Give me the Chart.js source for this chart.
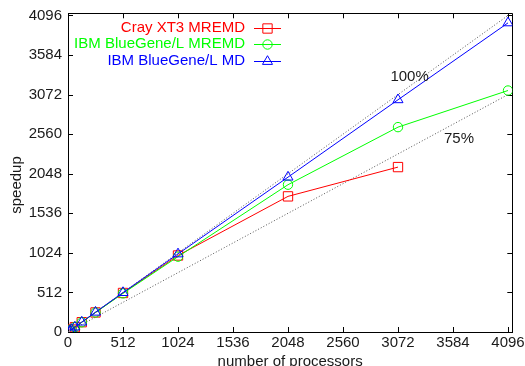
<!DOCTYPE html>
<html>
<head>
<meta charset="utf-8">
<script src="https://cdn.jsdelivr.net/npm/chart.js@4/dist/chart.umd.min.js"></script>
<style>
html,body{margin:0;padding:0;background:#fff}
#wrap{width:525px;height:366px;position:relative}
</style>
</head>
<body>
<div id="wrap"><canvas id="c"></canvas></div>
<script>
'use strict';

// number of processors
const procs=[16,32,64,128,256,512,1024,2048,3072,4096];
// speedup per system
const crayMremd=[16,32,63,127,253,505,990,1755,2134];
const bglMremd=[16,32,63,126,252,500,975,1906,2651,3125];
const bglMd=[16,32,64,128,256,510,1010,2004,3005,4000];
// reference efficiency lines
const refX=[0,4096];
const ref100=[0,4096];
const ref75=[0,3072];
const tickVals=[0,512,1024,1536,2048,2560,3072,3584,4096];
const seriesNames=['Cray XT3 MREMD','IBM BlueGene/L MREMD','IBM BlueGene/L MD'];

const FONT='"Liberation Sans", Arial, Helvetica, sans-serif';
const TXT='#1a1a1a';

const pts=(xs,ys)=>ys.map((y,i)=>({x:xs[i],y}));

// gnuplot-ish box: top/right border, inward ticks on all sides, notes, legend
const gnuFrame={
  id:'gnuFrame',
  beforeDatasetsDraw(chart){
    const {ctx,chartArea:a,scales:{x,y}}=chart;
    ctx.save();
    ctx.strokeStyle='#000';ctx.lineWidth=1;
    ctx.beginPath();
    ctx.moveTo(a.left,Math.round(a.top)+.5);ctx.lineTo(a.right,Math.round(a.top)+.5);
    ctx.moveTo(Math.round(a.right)+.5,a.top);ctx.lineTo(Math.round(a.right)+.5,a.bottom);
    x.ticks.forEach(t=>{
      const px=Math.round(x.getPixelForValue(t.value))+.5;
      ctx.moveTo(px,a.bottom);ctx.lineTo(px,a.bottom-5);
      ctx.moveTo(px,a.top);ctx.lineTo(px,a.top+5);
    });
    y.ticks.forEach(t=>{
      const py=Math.round(y.getPixelForValue(t.value))+.5;
      ctx.moveTo(a.left,py);ctx.lineTo(a.left+5,py);
      ctx.moveTo(a.right,py);ctx.lineTo(a.right-5,py);
    });
    ctx.stroke();
    // y title
    ctx.fillStyle=TXT;ctx.font='15px '+FONT;
    ctx.translate(17,185);ctx.rotate(-Math.PI/2);
    ctx.textAlign='center';ctx.textBaseline='middle';
    ctx.fillText('speedup',0,0);
    ctx.restore();
  },
  afterDraw(chart){
    const {ctx,scales:{x,y}}=chart;
    ctx.save();
    ctx.font='15px '+FONT;ctx.textBaseline='middle';
    ctx.fillStyle=TXT;ctx.textAlign='center';
    ctx.fillText('100%',x.getPixelForValue(3180),y.getPixelForValue(3300));
    ctx.fillText('75%',x.getPixelForValue(3640),y.getPixelForValue(2505));
    // legend
    const rows=[27.5,44,61];
    ctx.textAlign='right';
    chart.data.datasets.slice(0,3).forEach((ds,i)=>{
      const yy=rows[i];
      ctx.fillStyle=ds.borderColor;
      ctx.fillText(ds.label,245,yy);
      ctx.strokeStyle=ds.borderColor;ctx.lineWidth=1;
      ctx.beginPath();ctx.moveTo(254,Math.round(yy)+.5);ctx.lineTo(281,Math.round(yy)+.5);ctx.stroke();
      ctx.fillStyle='rgba(0,0,0,0)';
      Chart.helpers.drawPoint(ctx,{pointStyle:ds.pointStyle,radius:ds.pointRadius,borderWidth:1,rotation:0},267.5,Math.round(yy)+.5);
    });
    ctx.restore();
  }
};

const mk=(label,xs,ys,color,style,r,order)=>({
  label,data:pts(xs,ys),borderColor:color,backgroundColor:'rgba(0,0,0,0)',
  borderWidth:1,tension:0,pointStyle:style,pointRadius:r,pointHoverRadius:r,
  pointBorderWidth:1,pointBorderColor:color,pointBackgroundColor:'rgba(0,0,0,0)',order
});
const ref=(ys)=>({
  label:'',data:pts(refX,ys),borderColor:'#555',borderWidth:1,borderDash:[1,2],
  pointRadius:0,tension:0,order:5
});

new Chart(document.getElementById('c'),{
  type:'line',
  data:{datasets:[
    mk(seriesNames[0],procs,crayMremd,'#ff0000','rect',6.6,3),
    mk(seriesNames[1],procs,bglMremd,'#00ff00','circle',4.7,2),
    mk(seriesNames[2],procs,bglMd,'#0000ff','triangle',5.8,1),
    ref(ref100),ref(ref75)
  ]},
  options:{
    responsive:true,maintainAspectRatio:false,animation:false,
    layout:{padding:{left:0,right:12.7,top:13.3,bottom:0}},
    plugins:{legend:{display:false},tooltip:{enabled:false}},
    scales:{
      x:{type:'linear',min:0,max:4136,
        grid:{display:false,drawTicks:false},
        border:{display:true,color:'#000',width:1},
        afterBuildTicks:s=>{s.ticks=tickVals.map(v=>({value:v}));},
        afterFit:s=>{s.height=34;s.paddingLeft=0;s.paddingRight=0;},
        ticks:{color:TXT,font:{family:FONT,size:15},padding:2,maxRotation:0,autoSkip:false,callback:v=>String(v)},
        title:{display:true,text:'number of processors',color:TXT,font:{family:FONT,size:15},padding:{top:0,bottom:-5}}
      },
      y:{type:'linear',min:0,max:4124,
        grid:{display:false,drawTicks:false},
        border:{display:true,color:'#000',width:1},
        afterBuildTicks:s=>{s.ticks=tickVals.map(v=>({value:v}));},
        afterFit:s=>{s.width=68;s.paddingTop=0;s.paddingBottom=0;},
        ticks:{color:TXT,font:{family:FONT,size:15},padding:6,autoSkip:false,callback:v=>String(v)}
      }
    }
  },
  plugins:[gnuFrame]
});
</script>
</body>
</html>
